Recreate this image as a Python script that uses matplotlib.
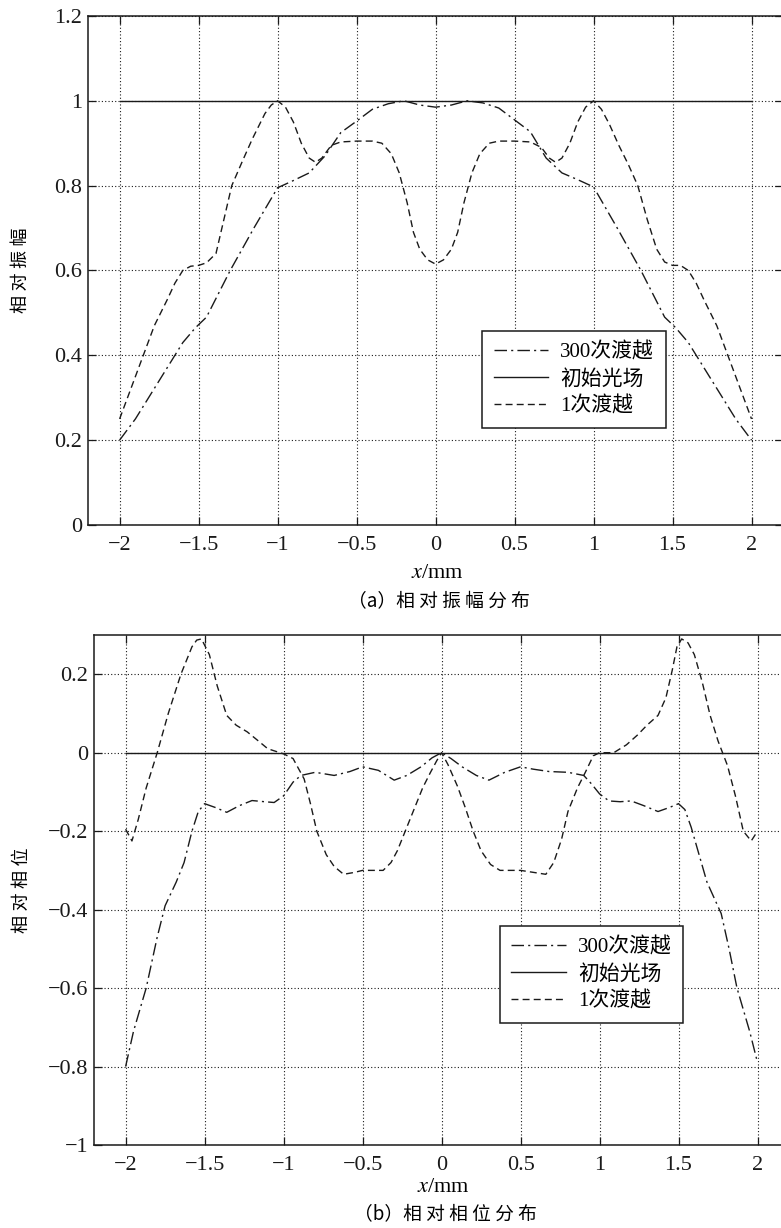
import matplotlib
matplotlib.use("Agg")
import matplotlib.pyplot as plt
from matplotlib.lines import Line2D

plt.rcParams['font.family'] = ['Liberation Serif', 'Noto Sans CJK SC']
plt.rcParams['mathtext.fontset'] = 'stix'
plt.rcParams['axes.unicode_minus'] = True

# ---------------- data: (a) relative amplitude ----------------
amp_init_x = [-2.0, 2.0]
amp_init_y = [1.0, 1.0]

amp300_x = [-2.0, -1.9, -1.8, -1.7, -1.6, -1.52, -1.45, -1.3, -1.15, -1.0, -0.9, -0.8,
            -0.7, -0.6, -0.5, -0.4, -0.3, -0.2, -0.1, 0.0, 0.1, 0.2, 0.3, 0.4, 0.5,
            0.6, 0.7, 0.8, 0.9, 1.0, 1.15, 1.3, 1.45, 1.52, 1.6, 1.7, 1.8, 1.9, 2.0]
amp300_y = [0.20, 0.25, 0.31, 0.37, 0.43, 0.465, 0.49, 0.60, 0.70, 0.795, 0.812, 0.83,
            0.87, 0.925, 0.952, 0.98, 0.993, 1.0, 0.99, 0.985, 0.99, 1.0, 0.995, 0.983, 0.955,
            0.927, 0.865, 0.83, 0.814, 0.797, 0.70, 0.60, 0.49, 0.465, 0.43, 0.37, 0.31, 0.25, 0.20]

amp1_x = [-2.0, -1.92, -1.85, -1.78, -1.7, -1.65, -1.6, -1.55, -1.5, -1.45, -1.39, -1.34,
          -1.29, -1.22, -1.16, -1.08, -1.04, -1.0, -0.95, -0.9, -0.85, -0.8, -0.76, -0.72,
          -0.66, -0.6, -0.5, -0.4, -0.34, -0.28, -0.23, -0.18, -0.14, -0.1, -0.05, 0.0,
          0.05, 0.1, 0.14, 0.18, 0.23, 0.28, 0.34, 0.4, 0.5, 0.6, 0.67, 0.72, 0.76, 0.8,
          0.85, 0.9, 0.95, 1.0, 1.05, 1.1, 1.16, 1.22, 1.28, 1.34, 1.4, 1.45, 1.5, 1.55,
          1.6, 1.65, 1.7, 1.78, 1.85, 1.92, 2.0]
amp1_y = [0.25, 0.33, 0.40, 0.47, 0.53, 0.57, 0.60, 0.61, 0.612, 0.618, 0.64, 0.72,
          0.80, 0.86, 0.91, 0.97, 0.99, 1.0, 0.985, 0.95, 0.90, 0.865, 0.855, 0.865,
          0.895, 0.903, 0.905, 0.905, 0.90, 0.875, 0.83, 0.76, 0.69, 0.65, 0.625, 0.615,
          0.625, 0.65, 0.69, 0.76, 0.83, 0.875, 0.90, 0.905, 0.905, 0.903, 0.89, 0.865, 0.855, 0.865,
          0.90, 0.95, 0.985, 1.0, 0.98, 0.945, 0.895, 0.85, 0.80, 0.72, 0.65, 0.62, 0.612, 0.612,
          0.60, 0.57, 0.53, 0.47, 0.40, 0.33, 0.25]

# ---------------- data: (b) relative phase ----------------
ph_init_x = [-2.0, 2.0]
ph_init_y = [0.0, 0.0]

ph300_x = [-2.0, -1.95, -1.87, -1.8, -1.75, -1.68, -1.63, -1.58, -1.54, -1.5, -1.43, -1.36,
           -1.28, -1.2, -1.12, -1.06, -1.0, -0.94, -0.89, -0.8, -0.68, -0.58, -0.5, -0.4,
           -0.3, -0.22, -0.13, -0.06, 0.0, 0.06, 0.13, 0.22, 0.3, 0.4, 0.5, 0.58, 0.68,
           0.8, 0.9, 0.95, 1.0, 1.06, 1.13, 1.2, 1.28, 1.37, 1.44, 1.5, 1.54, 1.58, 1.63,
           1.68, 1.77, 1.82, 1.87, 1.95, 2.0]
ph300_y = [-0.80, -0.71, -0.60, -0.47, -0.39, -0.33, -0.28, -0.20, -0.15, -0.13, -0.14, -0.152,
           -0.135, -0.122, -0.125, -0.127, -0.11, -0.075, -0.058, -0.05, -0.058, -0.048, -0.036, -0.045,
           -0.07, -0.058, -0.036, -0.013, 0.0, -0.015, -0.036, -0.058, -0.07, -0.05, -0.036, -0.042, -0.048,
           -0.05, -0.058, -0.08, -0.105, -0.123, -0.125, -0.123, -0.135, -0.15, -0.14, -0.13, -0.145, -0.19, -0.26,
           -0.33, -0.41, -0.50, -0.60, -0.71, -0.79]

ph1_x = [-2.0, -1.96, -1.92, -1.87, -1.8, -1.73, -1.65, -1.58, -1.55, -1.52, -1.47, -1.42,
         -1.36, -1.3, -1.23, -1.16, -1.1, -1.0, -0.94, -0.87, -0.83, -0.79, -0.73, -0.68,
         -0.62, -0.55, -0.5, -0.43, -0.37, -0.32, -0.28, -0.23, -0.18, -0.12, -0.07, -0.03, 0.0,
         0.04, 0.1, 0.15, 0.2, 0.25, 0.31, 0.37, 0.42, 0.5, 0.58, 0.66, 0.71, 0.76, 0.8,
         0.86, 0.91, 0.96, 1.0, 1.09, 1.17, 1.24, 1.3, 1.37, 1.42, 1.46, 1.49, 1.52, 1.56,
         1.6, 1.65, 1.7, 1.75, 1.81, 1.86, 1.91, 1.96, 2.0]
ph1_y = [-0.195, -0.225, -0.17, -0.09, 0.0, 0.10, 0.20, 0.27, 0.287, 0.29, 0.25, 0.17,
         0.095, 0.07, 0.053, 0.03, 0.01, -0.003, -0.015, -0.067, -0.13, -0.2, -0.26, -0.29,
         -0.31, -0.305, -0.30, -0.30, -0.30, -0.28, -0.25, -0.2, -0.15, -0.09, -0.05, -0.02, 0.0,
         -0.03, -0.085, -0.14, -0.2, -0.25, -0.285, -0.30, -0.30, -0.30, -0.305, -0.31, -0.28, -0.22, -0.15,
         -0.09, -0.05, -0.008, 0.0, 0.0, 0.02, 0.045, 0.07, 0.095, 0.14, 0.21, 0.27, 0.29, 0.28,
         0.25, 0.18, 0.095, 0.03, -0.033, -0.11, -0.2, -0.225, -0.2]

x_ticks = [-2, -1.5, -1, -0.5, 0, 0.5, 1, 1.5, 2]
x_ticklabels = ['−2', '−1.5', '−1', '−0.5', '0', '0.5', '1', '1.5', '2']
amp_yticks = [0, 0.2, 0.4, 0.6, 0.8, 1, 1.2]
amp_yticklabels = ['0', '0.2', '0.4', '0.6', '0.8', '1', '1.2']
ph_yticks = [-1, -0.8, -0.6, -0.4, -0.2, 0, 0.2]
ph_yticklabels = ['−1', '−0.8', '−0.6', '−0.4', '−0.2', '0', '0.2']
legend_labels = ['300次渡越', '初始光场', '1次渡越']
captions = ['（a）相 对 振 幅 分 布', '（b）相 对 相 位 分 布']
ylabels = ['相 对 振 幅', '相 对 相 位']

# ---------------- styling ----------------
LC = '#1a1a1a'
DASHDOT = (0, (9, 3, 1.5, 3))
DASHED = (0, (5, 3))
GRIDSTYLE = (0, (1, 2))

fig = plt.figure(figsize=(7.81, 12.28), dpi=100)
ax1 = fig.add_axes([0.1127, 0.5725, 0.890, 0.4145])
ax2 = fig.add_axes([0.1204, 0.0676, 0.890, 0.4153])


def style_axes(ax, yticks, yticklabels, ylim):
    ax.set_xlim(-2.2, 2.2)
    ax.set_ylim(*ylim)
    ax.set_xticks(x_ticks)
    ax.set_xticklabels(x_ticklabels)
    ax.set_yticks(yticks)
    ax.set_yticklabels(yticklabels)
    ax.tick_params(direction='in', length=6, width=0.9, top=True, right=True,
                   labelsize=16, colors=LC)
    ax.tick_params(axis='x', pad=8)
    ax.tick_params(axis='y', pad=4)
    ax.grid(True, color=LC, linestyle=GRIDSTYLE, linewidth=0.8)
    for s in ax.spines.values():
        s.set_linewidth(1.1)
        s.set_color(LC)
    ax.set_axisbelow(True)


# (a)
ax1.plot(amp300_x, amp300_y, color=LC, lw=1.0, linestyle=DASHDOT)
ax1.plot(amp_init_x, amp_init_y, color=LC, lw=1.0, linestyle='-')
ax1.plot(amp1_x, amp1_y, color=LC, lw=1.0, linestyle=DASHED)
style_axes(ax1, amp_yticks, amp_yticklabels, (0, 1.2))

# (b)
ax2.plot(ph300_x, ph300_y, color=LC, lw=1.0, linestyle=DASHDOT)
ax2.plot(ph_init_x, ph_init_y, color=LC, lw=1.0, linestyle='-')
ax2.plot(ph1_x, ph1_y, color=LC, lw=1.0, linestyle=DASHED)
style_axes(ax2, ph_yticks, ph_yticklabels, (-1, 0.3))

handles = [Line2D([], [], color=LC, lw=1.0, linestyle=DASHDOT),
           Line2D([], [], color=LC, lw=1.0, linestyle='-'),
           Line2D([], [], color=LC, lw=1.0, linestyle=DASHED)]

for ax, anchor in ((ax1, (0.567, 0.381)), (ax2, (0.584, 0.429))):
    leg = ax.legend(handles, legend_labels, loc='upper left', bbox_to_anchor=anchor,
                    fontsize=15, frameon=True, fancybox=False, framealpha=1,
                    edgecolor=LC, handlelength=2.6, handletextpad=0.6,
                    labelspacing=0.33, borderpad=0.55, borderaxespad=0)
    leg.get_frame().set_linewidth(1.1)

ax1.set_ylabel(ylabels[0], fontsize=13)
ax2.set_ylabel(ylabels[1], fontsize=13)
ax1.yaxis.set_label_coords(-0.083, 0.5)
ax2.yaxis.set_label_coords(-0.091, 0.5)

CJK = ['Noto Sans CJK SC', 'Liberation Serif']
fig.text(437 / 781, 1 - 574 / 1228, '$x$/mm', ha='center', va='center', fontsize=16)
fig.text(439 / 781, 1 - 602 / 1228, captions[0], ha='center', va='center',
         fontsize=13.5, family=CJK)
fig.text(443 / 781, 1 - 1187 / 1228, '$x$/mm', ha='center', va='center', fontsize=16)
fig.text(445 / 781, 1 - 1214 / 1228, captions[1], ha='center', va='center',
         fontsize=13.5, family=CJK)

fig.savefig('out.png', dpi=100)
